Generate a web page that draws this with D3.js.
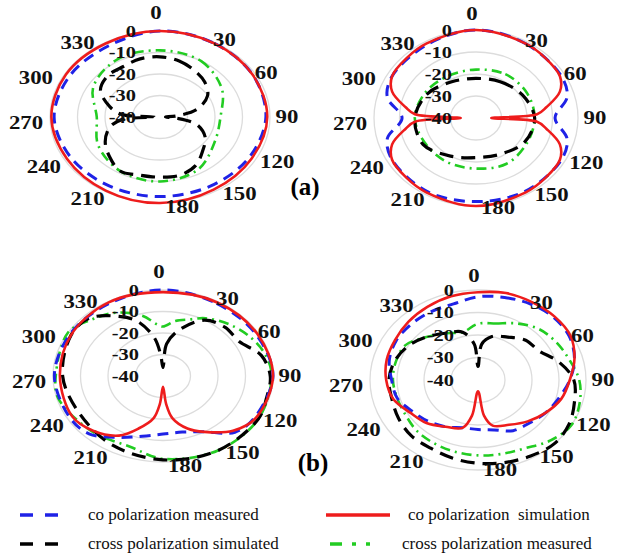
<!DOCTYPE html>
<html>
<head>
<meta charset="utf-8">
<script src="https://cdn.jsdelivr.net/npm/d3@7"></script>
<style>
  body { margin: 0; background: #fff; }
  text { font-family: "Liberation Serif", "Times New Roman", Times, serif; white-space: pre; }
</style>
</head>
<body>
<svg id="chartSVG" width="620" height="556"></svg>
<script>
// angle (deg) / level (dB) pairs
var angleTicks = [0, 30, 60, 90, 120, 150, 180, 210, 240, 270, 300, 330];
var radialTicks = [0, -10, -20, -30, -40];

// (a) left
var a1CoMeas = [[0,0],[30,-0.5],[60,-1],[90,-1.5],[120,-2.5],[150,-3],[180,-3],[210,-3],[240,-2.5],[270,-1.5],[300,-2],[330,-2]];
var a1CoSim = [[0,0],[30,-0.5],[60,-1],[90,-1],[120,-1.5],[150,-1],[180,0],[210,-0.5],[240,-1],[270,-0.5],[300,-0.5],[330,-0.5]];
var a1CrossSim = [[0,-12],[15,-13],[30,-15],[45,-17],[60,-20],[75,-26],[85,-34],[90,-38],[95,-34],[105,-26],[120,-21],[135,-18],[150,-14],[165,-12],[180,-12],[195,-12],[210,-11],[225,-14],[240,-17],[255,-21],[265,-26],[270,-38],[275,-26],[285,-21],[300,-15],[315,-13],[330,-13],[345,-12]];
var a1CrossMeas = [[0,-9],[30,-10],[60,-14],[90,-18],[120,-17],[150,-12],[180,-10],[210,-11],[240,-14],[270,-17],[300,-12],[330,-9]];

// (a) right
var a2CoMeas = [[0,0],[30,-1],[60,-1.5],[75,-3],[90,-9],[105,-3],[120,-1.5],[150,-1.5],[180,-2],[210,-1.5],[240,-2],[255,-4],[270,-11],[285,-4],[300,-2],[330,-1.5]];
var a2CoSim = [[0,0],[30,-1],[45,-1.5],[60,-2],[70,-5],[80,-12],[86,-16],[90,-34],[94,-16],[100,-12],[110,-5],[120,-2],[135,-1.5],[150,-1],[180,0],[210,-1],[225,-1.5],[240,-2],[250,-5],[260,-12],[266,-16],[270,-34],[274,-16],[280,-12],[290,-5],[300,-2],[315,-1.5],[330,-1]];
var a2CrossSim = [[0,-22],[30,-21],[60,-19],[90,-17],[120,-18],[150,-21],[180,-22],[210,-20],[240,-16],[270,-16],[300,-18],[330,-21]];
var a2CrossMeas = [[0,-18],[30,-17],[60,-17],[90,-17],[120,-17],[150,-16],[180,-17],[210,-17],[240,-17],[270,-16],[300,-17],[330,-18]];

// (b) left
var b1CoMeas = [[0,0],[30,-1],[60,-1],[90,0],[120,-1.5],[135,-3],[150,-10],[165,-13],[180,-13],[195,-11],[210,-7],[225,-2],[240,-1],[270,-0.5],[300,-1],[330,-1]];
var b1CoSim = [[0,-1],[30,-0.5],[60,-0.5],[90,0],[120,-1],[135,-4],[150,-10],[160,-14],[170,-20],[175,-27],[180,-35],[185,-27],[190,-20],[200,-14],[210,-8],[225,-4],[240,-2],[270,-2.5],[300,-1.5],[330,-0.5]];
var b1CrossSim = [[0,-36],[5,-25],[15,-18],[30,-10],[45,-8],[60,-8],[75,-3],[90,-1],[105,-1],[120,0],[150,0],[180,-1],[210,-3],[240,-5],[270,-3.5],[300,-1.5],[315,-2],[330,-8],[340,-13],[350,-22],[355,-30]];
var b1CrossMeas = [[0,-17],[10,-14],[20,-12],[30,-9],[45,-6],[60,-3.5],[75,-1.5],[90,-0.5],[120,0],[150,0],[180,-1.5],[200,-5],[225,-3.5],[255,-0.5],[270,-1],[300,0],[315,-3],[330,-6],[345,-11],[355,-16]];

// (b) right
var b2CoMeas = [[0,-3],[15,-2],[30,-1],[45,-0.5],[60,-1],[75,-3],[90,-6],[105,-9],[120,-11],[135,-13],[150,-14],[165,-17],[180,-18],[195,-18],[210,-16],[225,-14],[240,-12],[255,-9],[270,-8],[285,-6],[300,-5],[315,-5],[330,-5],[345,-5]];
var b2CoSim = [[0,-1],[15,0],[30,0],[45,0],[60,-0.5],[75,-3],[90,-6],[105,-8],[120,-11],[135,-14],[150,-17],[165,-19],[172,-24],[180,-35],[188,-24],[195,-18],[210,-16],[225,-13],[240,-11],[255,-7.5],[270,-6],[285,-5],[300,-4.5],[315,-3.5],[330,-2.5],[345,-1.5]];
var b2CrossSim = [[0,-34],[5,-24],[15,-20],[30,-18],[45,-15],[60,-14],[75,-9],[90,-4.5],[105,-3],[120,-1],[135,0],[150,-1],[165,-2],[180,-3],[195,-4],[210,-5],[225,-5],[240,-6],[255,-7],[270,-7],[285,-8],[300,-10],[315,-13],[330,-16],[345,-18],[355,-24]];
var b2CrossMeas = [[0,-15],[15,-14],[30,-11],[45,-8],[60,-6.5],[75,-5],[90,-2.5],[105,-1],[120,0],[135,-2],[150,-5],[165,-6],[180,-6.5],[195,-7],[210,-7.5],[225,-8],[240,-9],[255,-9],[270,-8.5],[285,-8.5],[300,-9],[315,-13],[330,-16],[345,-18]];

var legendLabels = ["co polarization measured", "co polarization  simulation",
                    "cross polarization simulated", "cross polarization measured"];

// line styles
var styles = {
  coMeas:    { color: "#1f22e6", width: 3,   dash: "11,7" },
  coSim:     { color: "#ee1c1c", width: 2.6, dash: null },
  crossSim:  { color: "#000000", width: 3.2, dash: "14,8" },
  crossMeas: { color: "#22cc22", width: 2.6, dash: "10,5,2,5" }
};

var panels = [
  { cx: 160, cy: 117, rx: 110, ry: 86, data: { crossMeas: a1CrossMeas, crossSim: a1CrossSim, coMeas: a1CoMeas, coSim: a1CoSim } },
  { cx: 476, cy: 118, rx: 102, ry: 88, data: { crossMeas: a2CrossMeas, crossSim: a2CrossSim, coMeas: a2CoMeas, coSim: a2CoSim } },
  { cx: 163, cy: 376, rx: 110, ry: 86, data: { crossMeas: b1CrossMeas, crossSim: b1CrossSim, coMeas: b1CoMeas, coSim: b1CoSim } },
  { cx: 478, cy: 380, rx: 108, ry: 90, data: { crossMeas: b2CrossMeas, crossSim: b2CrossSim, coMeas: b2CoMeas, coSim: b2CoSim } }
];

var svg = d3.select("#chartSVG");
var rScale = d3.scaleLinear().domain([-40, 0]).range([0, 1]).clamp(true);
var aScale = d3.scaleLinear().domain([0, 360]).range([0, 2 * Math.PI]);

// the angle labels of the original are not on a clean ellipse: small per-angle shifts
var labelNudge = {
  0: [0, -2], 30: [2, 12], 60: [-5, 10], 90: [-2, 5], 120: [6, 2], 150: [17, -2],
  180: [26, -2], 210: [-2, 3], 240: [3, 7], 270: [3, 11], 300: [-5, 15], 330: [-12, 15]
};

var drawPanel = function (p) {
  var g = svg.append("g");

  // grid rings
  g.selectAll("ellipse.grid")
    .data(radialTicks.filter(function (d) { return d > -40; }))
    .enter().append("ellipse")
    .attr("cx", p.cx).attr("cy", p.cy)
    .attr("rx", function (d) { return rScale(d) * p.rx; })
    .attr("ry", function (d) { return rScale(d) * p.ry; })
    .style("fill", "none")
    .style("stroke", "#dcdcdc")
    .style("stroke-width", 1.3);

  var line = d3.line()
    .x(function (d) { return p.cx + rScale(d[1]) * p.rx * Math.sin(aScale(d[0])); })
    .y(function (d) { return p.cy - rScale(d[1]) * p.ry * Math.cos(aScale(d[0])); })
    .curve(d3.curveCatmullRomClosed.alpha(0.5));

  ["crossMeas", "crossSim", "coMeas", "coSim"].forEach(function (key) {
    var st = styles[key];
    g.append("path")
      .attr("d", line(p.data[key]))
      .style("fill", "none")
      .style("stroke", st.color)
      .style("stroke-width", st.width)
      .style("stroke-dasharray", st.dash)
      .style("stroke-linecap", "butt");
  });

  // angle labels
  g.selectAll("text.ang")
    .data(angleTicks)
    .enter().append("text")
    .attr("transform", function (d) {
      var n = labelNudge[d];
      var x = p.cx - 4 + (p.rx + 23) * Math.sin(aScale(d)) + n[0];
      var y = p.cy - 6 - 97 * Math.cos(aScale(d)) + n[1];
      return "translate(" + x + "," + y + ") scale(1.2,1)";
    })
    .attr("text-anchor", "middle")
    .attr("dy", "0.35em")
    .style("font-size", "19px")
    .style("font-weight", "bold")
    .style("fill", "#111")
    .text(function (d) { return d; });

  // radial labels
  g.selectAll("text.rad")
    .data(radialTicks)
    .enter().append("text")
    .attr("transform", function (d) {
      return "translate(" + (p.cx - 24) + "," + (p.cy - rScale(d) * p.ry) + ") scale(1.2,1)";
    })
    .attr("text-anchor", "end")
    .attr("dy", "0.35em")
    .style("font-size", "17px")
    .style("font-weight", "bold")
    .style("fill", "#111")
    .text(function (d) { return d; });
};

panels.forEach(drawPanel);

svg.append("text").attr("x", 305).attr("y", 195).attr("text-anchor", "middle")
  .style("font-size", "25px").style("font-weight", "bold").text("(a)");
svg.append("text").attr("x", 313).attr("y", 471).attr("text-anchor", "middle")
  .style("font-size", "25px").style("font-weight", "bold").text("(b)");

// legend
var legendKeys = ["coMeas", "coSim", "crossSim", "crossMeas"];
var legendPos = [[20, 88, 515], [326, 408, 515], [20, 88, 544], [330, 402, 544]];
legendKeys.forEach(function (key, i) {
  var st = styles[key];
  var pos = legendPos[i];
  var len = key === "coSim" ? 64 : 40;
  var dash = key === "coMeas" || key === "crossSim" ? "13,12" : (key === "crossMeas" ? "12,10,4,10" : null);
  svg.append("line")
    .attr("x1", pos[0]).attr("x2", pos[0] + len)
    .attr("y1", pos[2]).attr("y2", pos[2])
    .style("stroke", st.color)
    .style("stroke-width", 3.5)
    .style("stroke-dasharray", dash);
  svg.append("text")
    .attr("x", pos[1]).attr("y", pos[2] + 5)
    .style("font-size", "17px")
    .style("fill", "#111")
    .text(legendLabels[i]);
});
</script>
</body>
</html>
